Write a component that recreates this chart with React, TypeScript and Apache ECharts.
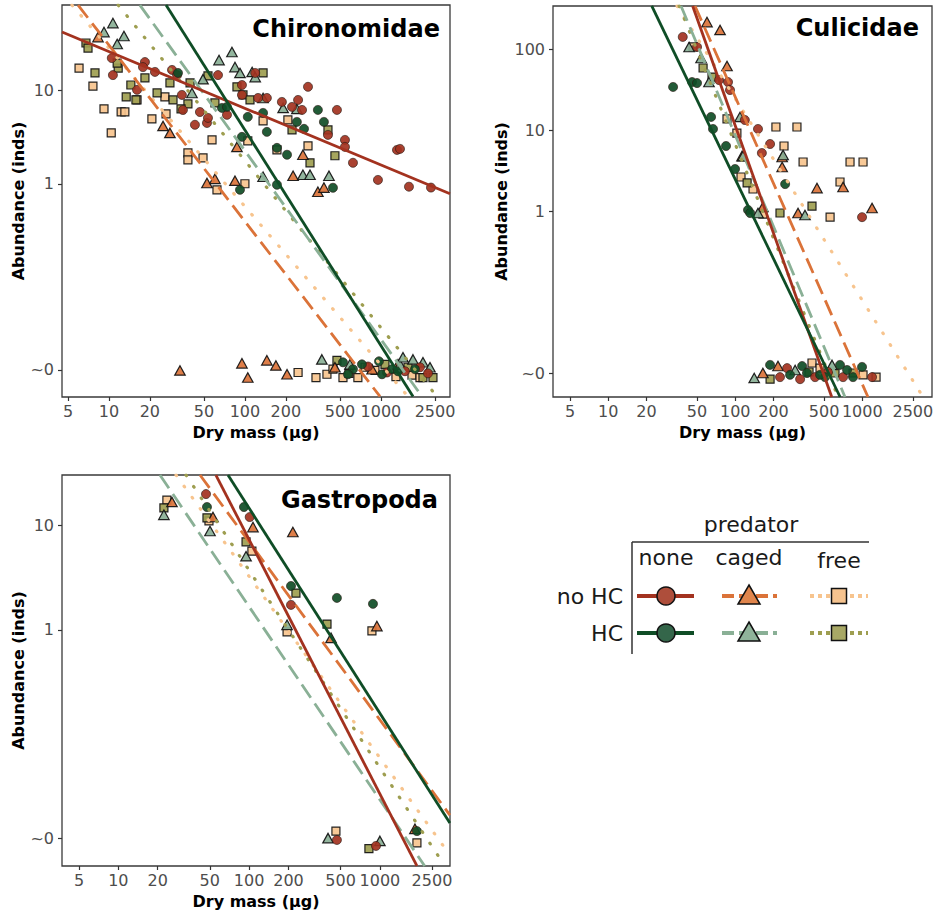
import React, { useEffect, useRef } from 'react';
import * as echarts from 'echarts';

const FONT = "'DejaVu Sans', Verdana, sans-serif";

// ---- tick values (raw units) ----
const X_TICKS = [5, 10, 20, 50, 100, 200, 500, 1000, 2500];
const Y_TICKS_CHIRO = [0.01, 1, 10];
const Y_TICKS_CULI = [0.01, 1, 10, 100];
const Y_TICKS_GASTRO = [0.01, 1, 10];

const PANEL_TITLES = ['Chironomidae', 'Culicidae', 'Gastropoda'];
const X_TITLE = 'Dry mass (µg)';
const Y_TITLE = 'Abundance (inds)';
const LEGEND_TITLE = 'predator';
const PREDATOR_LEVELS = ['none', 'caged', 'free'];
const HC_LEVELS = ['no HC', 'HC'];

// ---- Chironomidae: [dry mass µg, abundance] ----
const chiroNoneNoHC = [
  [10.5, 22.4], [10.7, 14.7], [16.1, 10.2], [18.4, 20.3], [17.8, 17.9], [21.8, 15.9], [29.1, 16.7], [31.7, 14.7],
  [34.4, 9.0], [35.0, 6.2], [42.9, 4.3], [46.7, 5.9], [52.6, 4.5], [53.5, 5.1], [63.4, 14.7], [73.8, 5.5],
  [95.1, 11.5], [95.1, 9.0], [119, 15.5], [125, 8.35], [145, 8.35], [187, 7.57], [222, 6.69], [246, 7.95],
  [263, 6.21], [291, 11.0], [408, 3.35], [475, 6.21], [544, 2.96], [544, 2.49], [623, 1.68], [951, 1.1],
  [1313, 2.31], [1381, 2.37], [1608, 0.93], [2334, 0.91],
  [804, 0.0109], [1108, 0.0094], [1503, 0.0097], [1937, 0.0107], [2219, 0.0092],
];
const chiroNoneHC = [
  [32.2, 15.5], [67.8, 6.53], [73.8, 6.69], [95.1, 3.19], [105, 5.23], [136, 5.77], [145, 3.61], [172, 2.43],
  [172, 0.976], [204, 2.05], [241, 4.62], [272, 3.89], [344, 6.21], [381, 4.62], [444, 0.906], [92.0, 0.862],
  [526, 0.0121], [623, 0.0102], [725, 0.0115], [968, 0.0124], [1018, 0.009], [1205, 0.0102], [572, 0.009],
  [1335, 0.0097], [1780, 0.0102],
];
const chiroCagedNoHC = [
  [8.31, 37.6], [25.0, 4.18], [28.1, 3.52], [52.6, 1.02], [60.2, 1.13], [84.5, 1.08], [87.4, 2.49], [226, 1.22],
  [267, 2.05], [344, 0.82], [381, 0.91],
  [33.3, 0.0099], [95.1, 0.0118], [105, 0.0083], [145, 0.0127], [169, 0.0112], [204, 0.009], [459, 0.0107],
  [861, 0.0102], [1335, 0.0115],
];
const chiroCagedHC = [
  [10.7, 53.2], [9.2, 42.6], [12.9, 38.6], [11.5, 31.7], [64.5, 21.3], [80.3, 26.0], [84.5, 17.9], [92.0, 15.5],
  [113, 15.9], [40.8, 9.45], [49.2, 13.3], [119, 14.0], [191, 6.53], [241, 6.37], [267, 1.25], [301, 1.25],
  [415, 1.22], [136, 8.35], [136, 1.19],
  [368, 0.013], [1381, 0.0115], [1453, 0.0137], [1721, 0.013], [2038, 0.0121], [2295, 0.0107], [592, 0.0115],
];
const chiroFreeNoHC = [
  [6.03, 17.5], [7.63, 11.2], [9.2, 6.37], [12.3, 5.91], [13.1, 5.91], [10.4, 3.52], [16.1, 7.95], [20.7, 4.97],
  [26.3, 5.63], [25.8, 8.56], [38.1, 2.15], [38.1, 1.81], [49.2, 1.9], [57.3, 2.96], [62.3, 0.86], [100, 1.0],
  [105, 2.89], [136, 4.73], [172, 2.31], [207, 4.85], [291, 2.55],
  [246, 0.0094], [333, 0.0083], [401, 0.009], [444, 0.0102], [526, 0.0083], [677, 0.0083], [764, 0.0107],
  [904, 0.0099], [1290, 0.0085], [1692, 0.0088], [1937, 0.0083],
];
const chiroFreeHC = [
  [6.78, 32.5], [7.02, 28.7], [7.9, 15.5], [11.7, 17.5], [11.5, 19.8], [14.5, 11.5], [13.4, 8.56], [15.8, 7.95],
  [18.4, 13.7], [22.6, 9.45], [28.1, 12.1], [29.6, 7.95], [39.5, 12.1], [38.1, 7.2], [33.9, 6.37], [53.5, 14.4],
  [60.2, 7.38], [87.4, 11.0], [96.8, 9.0], [109, 7.95], [136, 15.5], [222, 3.79], [408, 3.79], [459, 2.0],
  [301, 1.68],
  [475, 0.0127], [582, 0.0092], [1071, 0.0115], [1581, 0.0107], [2038, 0.0083], [2414, 0.0083],
];
// fitted lines: two end points [mass, abundance]
const chiroFitNoneNoHC = [[4.52, 42.6], [3221, 0.78]];
const chiroFitNoneHC = [[26.3, 83], [1722, 0.0052]];
const chiroFitCagedNoHC = [[5.93, 83], [984, 0.0052]];
const chiroFitCagedHC = [[16.9, 83], [2005, 0.0052]];
const chiroFitFreeNoHC = [[5.35, 83], [1581, 0.0052]];
const chiroFitFreeHC = [[11.7, 83], [2582, 0.0052]];

// ---- Culicidae ----
const culiNoneNoHC = [
  [38.6, 141], [50.0, 106], [74.5, 41.4], [87.7, 39.1], [90.9, 31.2], [119, 13.3], [151, 10.3], [162, 5.2],
  [188, 6.72], [996, 0.84],
  [225, 0.0089], [256, 0.0115], [324, 0.0084], [425, 0.0089], [706, 0.0089], [1194, 0.0089], [538, 0.0103],
];
const culiNoneHC = [
  [32.4, 34.0], [45.7, 39.1], [50.0, 38.0], [64.5, 14.5], [66.8, 10.3], [84.6, 6.35], [99.6, 3.3], [126, 1.03],
  [131, 0.945], [247, 2.15],
  [188, 0.0126], [270, 0.0095], [336, 0.0122], [367, 0.01], [509, 0.0089], [759, 0.0109], [846, 0.0089],
  [996, 0.0119], [668, 0.0126], [465, 0.0095],
];
const culiCagedNoHC = [
  [59.9, 215], [75.9, 172], [86.1, 61.7], [113, 4.77], [234, 3.49], [234, 4.64], [312, 0.945], [440, 1.92],
  [706, 1.98], [1194, 1.09], [165, 1.12],
  [165, 0.01], [217, 0.0122],
];
const culiCagedHC = [
  [43.3, 106], [53.8, 77.4], [62.1, 39.1], [109, 14.5], [115, 4.77], [238, 4.91], [354, 0.892], [151, 0.945],
  [141, 0.0087], [296, 0.0109], [578, 0.0126],
];
const culiFreeNoHC = [
  [46.5, 106], [86.1, 13.7], [103, 9.18], [111, 2.63], [138, 1.87], [165, 0.918], [209, 10.9], [306, 10.9],
  [242, 6.35], [342, 4.03], [668, 2.28], [801, 4.03], [1014, 4.03], [558, 0.843],
  [402, 0.0133], [465, 0.0115], [1014, 0.0095], [1284, 0.0089],
];
const culiFreeHC = [
  [55.8, 58.3], [65.6, 45.1], [124, 2.22], [225, 0.945], [402, 1.15],
  [188, 0.0084], [381, 0.0103], [610, 0.01], [846, 0.01],
];
const culiFitNoneNoHC = [[46.2, 340], [575, 0.00506]];
const culiFitNoneHC = [[22.0, 340], [669, 0.00506]];
const culiFitCagedNoHC = [[48.2, 340], [1109, 0.00506]];
const culiFitCagedHC = [[37.4, 340], [731, 0.00506]];
const culiFitFreeNoHC = [[34.8, 340], [3013, 0.00506]];
const culiFitFreeHC = [[36.1, 340], [645, 0.00506]];

// ---- Gastropoda ----
const gastroNoneNoHC = [[46.8, 20.1], [101, 12.1], [209, 1.74], [469, 0.0097], [933, 0.0085]];
const gastroNoneHC = [[47.6, 15.1], [91.3, 15.1], [209, 2.64], [469, 2.03], [885, 1.78], [1919, 0.0118]];
const gastroCagedNoHC = [[25.7, 16.9], [52.9, 12.1], [107, 9.7], [216, 8.7], [423, 0.84], [948, 1.09], [1853, 0.0124]];
const gastroCagedHC = [[22.3, 12.7], [50.2, 8.9], [94.7, 5.1], [195, 1.12], [401, 0.0101], [1000, 0.0095]];
const gastroFreeNoHC = [[23.5, 17.6], [49.3, 11.1], [105, 5.7], [195, 0.96], [869, 0.98], [461, 0.0118], [1919, 0.0091]];
const gastroFreeHC = [[22.3, 14.8], [47.6, 11.9], [94.7, 7.0], [228, 2.26], [394, 1.14], [824, 0.008]];
const gastroFitNoneNoHC = [[55.7, 30.6], [1919, 0.00546]];
const gastroFitNoneHC = [[68.9, 30.6], [3428, 0.0141]];
const gastroFitCagedNoHC = [[42.1, 30.6], [3428, 0.0168]];
const gastroFitCagedHC = [[20.8, 30.6], [2200, 0.00546]];
const gastroFitFreeNoHC = [[27.6, 30.6], [3428, 0.00696]];
const gastroFitFreeHC = [[32.9, 30.6], [3141, 0.00546]];

// group order: none/noHC, none/HC, caged/noHC, caged/HC, free/noHC, free/HC
const COLORS = ['#A3321F', '#0F4D26', '#DB7339', '#8AB096', '#F7C48E', '#9E9E50'];
const LEGEND_FILL = ['#AE4E3B', '#34664A', '#E0854C', '#8FB39A', '#F5C38F', '#A8A866'];

const lg = (v: number) => Math.log10(v);
const toLog = (arr: number[][]) => arr.map(([m, a]) => [lg(m), lg(a)]);

const PANELS = [
  {
    pts: [chiroNoneNoHC, chiroNoneHC, chiroCagedNoHC, chiroCagedHC, chiroFreeNoHC, chiroFreeHC],
    fits: [chiroFitNoneNoHC, chiroFitNoneHC, chiroFitCagedNoHC, chiroFitCagedHC, chiroFitFreeNoHC, chiroFitFreeHC],
    yTicks: Y_TICKS_CHIRO,
    grid: { left: 62, top: 5, width: 388, height: 392 },
    x: [0.655, 3.508], y: [-2.29, 1.92],
    title: { x: 440, y: 29 }, yTitleX: 18,
  },
  {
    pts: [culiNoneNoHC, culiNoneHC, culiCagedNoHC, culiCagedHC, culiFreeNoHC, culiFreeHC],
    fits: [culiFitNoneNoHC, culiFitNoneHC, culiFitCagedNoHC, culiFitCagedHC, culiFitFreeNoHC, culiFitFreeHC],
    yTicks: Y_TICKS_CULI,
    grid: { left: 553, top: 6, width: 379, height: 391 },
    x: [0.565, 3.549], y: [-2.296, 2.531],
    title: { x: 919, y: 28 }, yTitleX: 501,
  },
  {
    pts: [gastroNoneNoHC, gastroNoneHC, gastroCagedNoHC, gastroCagedHC, gastroFreeNoHC, gastroFreeHC],
    fits: [gastroFitNoneNoHC, gastroFitNoneHC, gastroFitCagedNoHC, gastroFitCagedHC, gastroFitFreeNoHC, gastroFitFreeHC],
    yTicks: Y_TICKS_GASTRO,
    grid: { left: 62, top: 475, width: 388, height: 391 },
    x: [0.569, 3.536], y: [-2.263, 1.486],
    title: { x: 438, y: 500 }, yTitleX: 18,
  },
];

const SYMBOLS = ['circle', 'circle', 'triangle', 'triangle', 'rect', 'rect'];
const SIZES: any[] = [9, 9, [10.5, 9.5], [10.5, 9.5], 8, 8];
const DASHES: any[] = ['solid', 'solid', [16, 7], [16, 7], [0.8, 13], [0.8, 13]];
const DRAW_ORDER = [4, 5, 2, 3, 0, 1];

function txt(text: string, x: number, y: number, opts: any = {}) {
  const align = opts.align || 'center';
  const valign = opts.valign || 'middle';
  return {
    type: 'text',
    x, y,
    rotation: opts.rotation || 0,
    z: 100,
    style: {
      text,
      fill: opts.color || '#000',
      fontSize: opts.size || 16,
      fontWeight: opts.weight || 'normal',
      fontFamily: FONT,
      align, verticalAlign: valign,
      textAlign: align, textVerticalAlign: valign,
    },
  };
}

export default function App() {
  const ref = useRef<HTMLDivElement>(null);
  useEffect(() => {
    if (!ref.current) return;
    const chart = echarts.init(ref.current, undefined, { renderer: 'svg' });

    const xFmt = (v: number) => String(Math.round(Math.pow(10, v)));
    const yFmt = (v: number) => {
      const r = Math.pow(10, v);
      return r < 0.1 ? '~0' : String(Math.round(r));
    };

    const grids: any[] = [];
    const xAxes: any[] = [];
    const yAxes: any[] = [];
    const series: any[] = [];
    const graphics: any[] = [];

    PANELS.forEach((p, i) => {
      grids.push({
        ...p.grid, show: true, borderColor: '#3a3a3a', borderWidth: 1.3,
        backgroundColor: 'transparent', containLabel: false, outerBoundsMode: 'none',
      });
      const xt = X_TICKS.map(lg);
      const yt = p.yTicks.map(lg);
      xAxes.push({
        type: 'value', gridIndex: i, min: p.x[0], max: p.x[1], position: 'bottom',
        axisLine: { show: false, onZero: false }, splitLine: { show: false },
        axisTick: { show: true, length: 4, lineStyle: { color: '#333', width: 1.2 }, customValues: xt },
        axisLabel: { customValues: xt, formatter: xFmt, color: '#4d4d4d', fontSize: 16, fontFamily: FONT, margin: 6, hideOverlap: false },
      });
      yAxes.push({
        type: 'value', gridIndex: i, min: p.y[0], max: p.y[1], position: 'left',
        axisLine: { show: false, onZero: false }, splitLine: { show: false },
        axisTick: { show: true, length: 4, lineStyle: { color: '#333', width: 1.2 }, customValues: yt },
        axisLabel: { customValues: yt, formatter: yFmt, color: '#4d4d4d', fontSize: 16, fontFamily: FONT, margin: 8 },
      });
      DRAW_ORDER.forEach((g) => {
        series.push({
          type: 'scatter', xAxisIndex: i, yAxisIndex: i, silent: true,
          data: toLog(p.pts[g]),
          symbol: SYMBOLS[g], symbolSize: SIZES[g],
          itemStyle: {
            color: COLORS[g], opacity: 0.92,
            borderColor: g < 2 ? '#2a1a14' : '#111', borderWidth: g < 2 ? 0.7 : 1.2,
          },
          z: 2,
        });
      });
      [4, 5, 2, 3, 0, 1].forEach((g) => {
        series.push({
          type: 'line', xAxisIndex: i, yAxisIndex: i, silent: true,
          data: toLog(p.fits[g]), symbol: 'none', clip: true,
          lineStyle: { color: COLORS[g], width: g >= 4 ? 3.2 : 2.8, type: DASHES[g], cap: g >= 4 ? 'round' : 'butt' },
          z: 3,
        });
      });
      const gx = p.grid.left + p.grid.width / 2;
      const gy = p.grid.top + p.grid.height / 2;
      graphics.push(txt(PANEL_TITLES[i], p.title.x, p.title.y, { align: 'right', size: 24, weight: 'bold' }));
      graphics.push(txt(X_TITLE, gx, p.grid.top + p.grid.height + 35, { size: 16, weight: 'bold' }));
      graphics.push(txt(Y_TITLE, p.yTitleX, gy, { size: 16, weight: 'bold', rotation: Math.PI / 2 }));
    });

    // ---- legend (table layout) ----
    const colX = [666, 749, 839];
    const rowY = [596, 633];
    graphics.push(txt(LEGEND_TITLE, 751, 524, { size: 22, color: '#1a1a1a' }));
    graphics.push({ type: 'line', shape: { x1: 632, y1: 542, x2: 869, y2: 542 }, style: { stroke: '#333', lineWidth: 1.5 } });
    graphics.push({ type: 'line', shape: { x1: 632, y1: 542, x2: 632, y2: 654 }, style: { stroke: '#333', lineWidth: 1.5 } });
    PREDATOR_LEVELS.forEach((lv, c) => {
      graphics.push(txt(lv, colX[c], c === 2 ? 560 : 557, { size: 22, color: '#1a1a1a' }));
    });
    HC_LEVELS.forEach((lv, r) => {
      graphics.push(txt(lv, 623, rowY[r], { size: 22, color: '#1a1a1a', align: 'right' }));
    });
    const lineSpans = [[637, 694], [722, 777], [810, 868]];
    const legendDash: any[] = [null, [12, 5], [4, 4]];
    for (let c = 0; c < 3; c++) {
      for (let r = 0; r < 2; r++) {
        const g = c * 2 + r;
        const cy = rowY[r];
        const cx = colX[c];
        graphics.push({
          type: 'line', shape: { x1: lineSpans[c][0], y1: cy, x2: lineSpans[c][1], y2: cy },
          style: { stroke: COLORS[g], lineWidth: 3.8, lineDash: legendDash[c] || undefined },
        });
        if (c === 0) {
          graphics.push({ type: 'circle', shape: { cx, cy, r: 9 }, style: { fill: LEGEND_FILL[g], stroke: '#111', lineWidth: 1.5 } });
        } else if (c === 1) {
          graphics.push({
            type: 'polygon',
            shape: { points: [[cx, cy - 11], [cx + 11, cy + 8], [cx - 11, cy + 8]] },
            style: { fill: LEGEND_FILL[g], stroke: '#111', lineWidth: 1.5 },
          });
        } else {
          graphics.push({ type: 'rect', shape: { x: cx - 7.5, y: cy - 7.5, width: 15, height: 15 }, style: { fill: LEGEND_FILL[g], stroke: '#111', lineWidth: 1.5 } });
        }
      }
    }

    chart.setOption({
      animation: false,
      backgroundColor: '#fff',
      grid: grids,
      xAxis: xAxes,
      yAxis: yAxes,
      series,
      graphic: { elements: graphics },
    });
    return () => chart.dispose();
  }, []);
  return <div ref={ref} style={{ position: 'absolute', left: 0, top: 0, width: 937, height: 917 }} />;
}
